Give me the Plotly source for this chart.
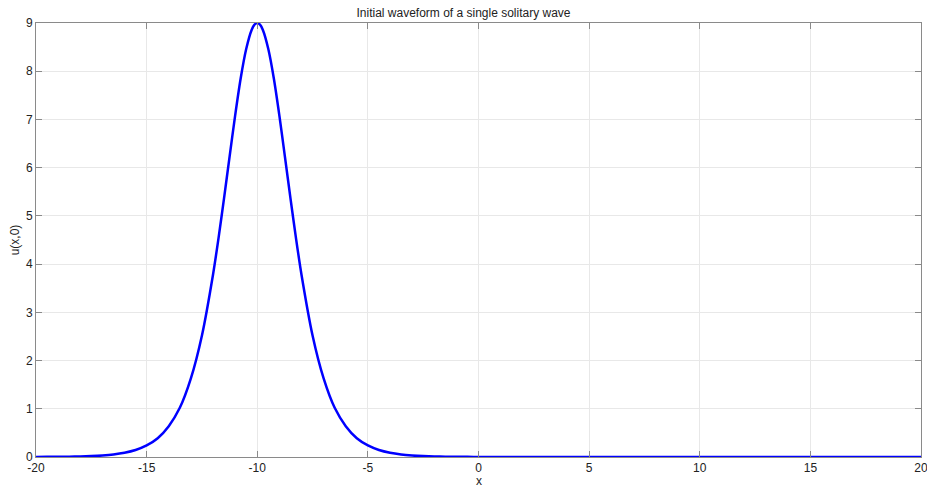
import plotly.graph_objects as go

# x sample positions and u(x,0) values
x_vals = [-20.0, -19.5, -19.0, -18.5, -18.0, -17.5, -17.0, -16.5, -16.0, -15.5,
          -15.0, -14.5, -14.0, -13.5, -13.0, -12.5, -12.0, -11.75, -11.5, -11.25,
          -11.0, -10.75, -10.5, -10.25, -10.125, -10.0, -9.875, -9.75, -9.5, -9.25, -9.0, -8.75,
          -8.5, -8.25, -8.0, -7.5, -7.0, -6.5, -6.0, -5.5,
          -5.0, -4.5, -4.0, -3.5, -3.0, -2.5, -2.0, -1.5, -1.0, -0.5,
          0.0, 1.0, 2.0, 4.0, 6.0, 8.0, 10.0, 12.0, 14.0, 16.0, 18.0, 20.0]
u_vals = [0.0016, 0.0027, 0.0044, 0.0073, 0.012, 0.020, 0.033, 0.054, 0.089, 0.146,
          0.24, 0.39, 0.64, 1.02, 1.63, 2.52, 3.78, 4.54, 5.37, 6.23,
          7.08, 7.85, 8.46, 8.86, 8.965, 9.0, 8.965, 8.86, 8.46, 7.85, 7.08, 6.23,
          5.37, 4.54, 3.78, 2.52, 1.63, 1.02, 0.64, 0.39,
          0.24, 0.146, 0.089, 0.054, 0.033, 0.020, 0.012, 0.0073, 0.0044, 0.0027,
          0.0016, 0.0006, 0.0002, 0.0, 0.0, 0.0, 0.0, 0.0, 0.0, 0.0, 0.0, 0.0]

x_ticks = [-20, -15, -10, -5, 0, 5, 10, 15, 20]
y_ticks = [0, 1, 2, 3, 4, 5, 6, 7, 8, 9]

title_text = "Initial waveform of a single solitary wave"
x_label = "x"
y_label = "u(x,0)"

fig = go.Figure()
fig.add_trace(go.Scatter(x=x_vals, y=u_vals, mode="lines",
                         line=dict(color="#0000ff", width=2.5, shape="spline", smoothing=0.8),
                         showlegend=False, hoverinfo="skip"))

font_family = "Liberation Sans, Arial, Helvetica, sans-serif"
axis_common = dict(showgrid=True, gridcolor="#e8e8e8", gridwidth=1,
                   showline=True, linecolor="#8a8a8a", linewidth=1, mirror="ticks",
                   ticks="inside", ticklen=6, tickcolor="#8a8a8a",
                   zeroline=False, automargin=False, ticklabeloverflow="allow",
                   tickfont=dict(size=12, color="#222222", family=font_family))

fig.update_layout(
    width=927, height=486,
    margin=dict(l=36, r=6, t=23, b=29, autoexpand=False),
    paper_bgcolor="white", plot_bgcolor="white",
    title=dict(text=title_text, x=0.5, xanchor="center", y=1 - 13 / 486, yanchor="middle",
               font=dict(size=12, color="#222222", family=font_family)),
    font=dict(family=font_family),
    xaxis=dict(range=[-20, 20], tickvals=x_ticks, ticktext=[str(t) for t in x_ticks],
               **axis_common),
    yaxis=dict(range=[0, 9], tickvals=y_ticks, ticktext=[str(t) for t in y_ticks],
               title=dict(text=y_label, standoff=3, font=dict(size=12, color="#222222")),
               **axis_common),
)
fig.add_annotation(text=x_label, xref="x", x=0, yref="paper", y=-24 / 434,
                   yanchor="middle", showarrow=False,
                   font=dict(size=12, color="#222222", family=font_family))

fig.write_html("out.html", config={"displayModeBar": False},
               post_script="document.body.style.margin='0';")
